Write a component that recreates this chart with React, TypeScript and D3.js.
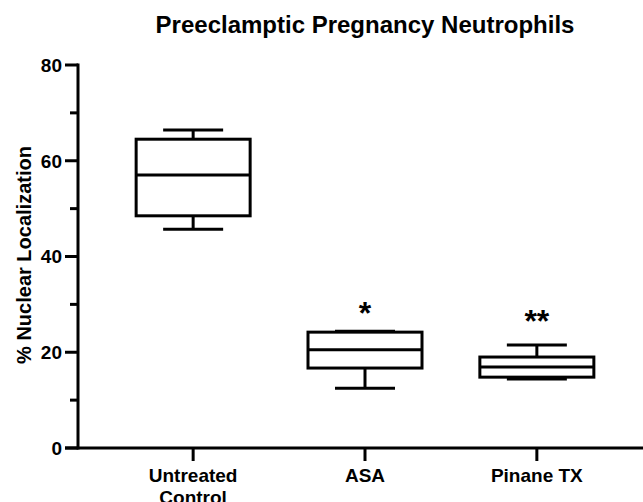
import React, { useEffect, useRef } from 'react';
import * as d3 from 'd3';

// groups along the x axis
const categories = ['Untreated Control', 'ASA', 'Pinane TX'];
// box plot summaries (min, q1, median, q3, max)
const minValues = [45.7, 12.5, 14.4];
const q1Values = [48.5, 16.7, 14.8];
const medianValues = [57.0, 20.5, 16.9];
const q3Values = [64.5, 24.2, 19.0];
const maxValues = [66.4, 24.4, 21.5];
// significance marks above each box and the level they sit at
const significance = ['', '*', '**'];
const starLevels = [0, 29.5, 27.8];
const yTicks = [0, 20, 40, 60, 80];
const yMinorTicks = [10, 30, 50, 70];

const FONT = '"Liberation Sans", Arial, Helvetica, sans-serif';

export default function App() {
  const ref = useRef<SVGSVGElement>(null);

  useEffect(() => {
    const width = 643;
    const height = 502;

    const svg = d3.select(ref.current);
    svg.selectAll('*').remove();
    svg.attr('width', width).attr('height', height);

    const x = d3.scalePoint<string>()
      .domain(categories)
      .range([78, 652])
      .padding(0.67);

    const y = d3.scaleLinear()
      .domain([0, 80])
      .range([448, 65]);

    const boxHalf = 57;
    const capHalf = 30;

    // title
    svg.append('text')
      .attr('x', 365)
      .attr('y', 33)
      .attr('text-anchor', 'middle')
      .style('font-family', FONT)
      .style('font-weight', 'bold')
      .style('font-size', '24px')
      .text('Preeclamptic Pregnancy Neutrophils');

    // y axis
    const yAxis = svg.append('g').attr('transform', 'translate(78,0)');
    yAxis.append('line')
      .attr('x1', 0).attr('x2', 0)
      .attr('y1', y(80) - 1.5).attr('y2', y(0) + 1.5)
      .attr('stroke', 'black').attr('stroke-width', 3);

    yAxis.selectAll('.major')
      .data(yTicks)
      .enter()
      .append('line')
        .attr('x1', -13).attr('x2', 0)
        .attr('y1', d => y(d)).attr('y2', d => y(d))
        .attr('stroke', 'black').attr('stroke-width', 3);

    yAxis.selectAll('.minor')
      .data(yMinorTicks)
      .enter()
      .append('line')
        .attr('x1', -8).attr('x2', 0)
        .attr('y1', d => y(d)).attr('y2', d => y(d))
        .attr('stroke', 'black').attr('stroke-width', 3);

    yAxis.selectAll('.lbl')
      .data(yTicks)
      .enter()
      .append('text')
        .attr('x', -16)
        .attr('y', d => y(d))
        .attr('dy', '0.36em')
        .attr('text-anchor', 'end')
        .style('font-family', FONT)
        .style('font-weight', 'bold')
        .style('font-size', '19px')
        .text(d => d);

    svg.append('text')
      .attr('transform', 'translate(31,255) rotate(-90)')
      .attr('text-anchor', 'middle')
      .style('font-family', FONT)
      .style('font-weight', 'bold')
      .style('font-size', '20px')
      .text('% Nuclear Localization');

    // x axis
    const xAxis = svg.append('g').attr('transform', `translate(0,${y(0)})`);
    xAxis.append('line')
      .attr('x1', 65).attr('x2', width)
      .attr('y1', 0).attr('y2', 0)
      .attr('stroke', 'black').attr('stroke-width', 3);

    xAxis.selectAll('.tick')
      .data(categories)
      .enter()
      .append('line')
        .attr('x1', d => x(d)!).attr('x2', d => x(d)!)
        .attr('y1', 0).attr('y2', 13)
        .attr('stroke', 'black').attr('stroke-width', 3);

    const xLabels = xAxis.selectAll('.xl')
      .data(categories)
      .enter()
      .append('text')
        .attr('text-anchor', 'middle')
        .attr('y', 34)
        .style('font-family', FONT)
        .style('font-weight', 'bold')
        .style('font-size', '19px');

    xLabels.each(function (d) {
      const words = d === 'Untreated Control' ? ['Untreated', 'Control'] : [d];
      const t = d3.select(this);
      words.forEach((w, i) => {
        t.append('tspan')
          .attr('x', x(d)!)
          .attr('dy', i === 0 ? 0 : '1.15em')
          .text(w);
      });
    });

    // boxes
    const boxes = svg.selectAll('.box')
      .data(categories)
      .enter()
      .append('g');

    boxes.append('line')
      .attr('x1', d => x(d)!).attr('x2', d => x(d)!)
      .attr('y1', (d, i) => y(maxValues[i])).attr('y2', (d, i) => y(q3Values[i]))
      .attr('stroke', 'black').attr('stroke-width', 3);

    boxes.append('line')
      .attr('x1', d => x(d)!).attr('x2', d => x(d)!)
      .attr('y1', (d, i) => y(q1Values[i])).attr('y2', (d, i) => y(minValues[i]))
      .attr('stroke', 'black').attr('stroke-width', 3);

    boxes.append('line')
      .attr('x1', d => x(d)! - capHalf).attr('x2', d => x(d)! + capHalf)
      .attr('y1', (d, i) => y(maxValues[i])).attr('y2', (d, i) => y(maxValues[i]))
      .attr('stroke', 'black').attr('stroke-width', 3);

    boxes.append('line')
      .attr('x1', d => x(d)! - capHalf).attr('x2', d => x(d)! + capHalf)
      .attr('y1', (d, i) => y(minValues[i])).attr('y2', (d, i) => y(minValues[i]))
      .attr('stroke', 'black').attr('stroke-width', 3);

    boxes.append('rect')
      .attr('x', d => x(d)! - boxHalf)
      .attr('width', boxHalf * 2)
      .attr('y', (d, i) => y(q3Values[i]))
      .attr('height', (d, i) => y(q1Values[i]) - y(q3Values[i]))
      .attr('fill', 'white')
      .attr('stroke', 'black').attr('stroke-width', 3);

    boxes.append('line')
      .attr('x1', d => x(d)! - boxHalf).attr('x2', d => x(d)! + boxHalf)
      .attr('y1', (d, i) => y(medianValues[i])).attr('y2', (d, i) => y(medianValues[i]))
      .attr('stroke', 'black').attr('stroke-width', 3);

    // significance stars, centred on their level
    boxes.append('text')
      .attr('x', d => x(d)!)
      .attr('y', (d, i) => y(starLevels[i]))
      .attr('dy', 17)
      .attr('text-anchor', 'middle')
      .style('font-family', FONT)
      .style('font-weight', 'bold')
      .style('font-size', '32px')
      .text((d, i) => significance[i]);
  }, []);

  return (
    <svg ref={ref} style={{ position: 'absolute', left: 0, top: 0, background: 'white' }} />
  );
}
